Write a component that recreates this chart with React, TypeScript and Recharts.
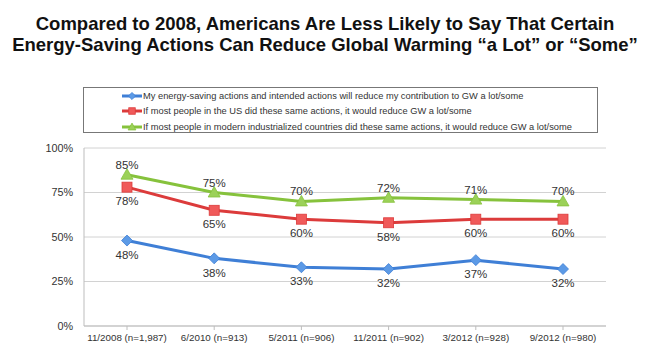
import { CartesianGrid, LabelList, Line, LineChart, XAxis, YAxis } from 'recharts';

const surveys = [
  '11/2008 (n=1,987)',
  '6/2010 (n=913)',
  '5/2011 (n=906)',
  '11/2011 (n=902)',
  '3/2012 (n=928)',
  '9/2012 (n=980)',
];
const myActions = [48, 38, 33, 32, 37, 32];
const mostUS = [78, 65, 60, 58, 60, 60];
const mostIndustrialized = [85, 75, 70, 72, 71, 70];
const yTicks = [0, 25, 50, 75, 100];

const FONT = '"Liberation Sans", Arial, sans-serif';

const series = [
  {
    key: 'mine',
    name: 'My energy-saving actions and intended actions will reduce my contribution to GW a lot/some',
    line: '#3f7fd6',
    fill: '#5c9ae6',
    shape: 'diamond',
    labelPos: 'bottom',
  },
  {
    key: 'us',
    name: 'If most people in the US did these same actions, it would reduce GW a lot/some',
    line: '#dc3b3b',
    fill: '#f05a5a',
    shape: 'square',
    labelPos: 'bottom',
  },
  {
    key: 'world',
    name: 'If most people in modern industrialized countries did these same actions, it would reduce GW a lot/some',
    line: '#86c23c',
    fill: '#9bd158',
    shape: 'triangle',
    labelPos: 'top',
  },
] as const;

const data = surveys.map((s, i) => ({
  survey: s,
  mine: myActions[i],
  us: mostUS[i],
  world: mostIndustrialized[i],
}));

function Marker({ cx, cy, shape, fill, stroke, size = 1 }: any) {
  if (cx == null || cy == null) return null;
  if (shape === 'diamond') {
    const r = 5.5 * size;
    return <path d={`M${cx},${cy - r}L${cx + r},${cy}L${cx},${cy + r}L${cx - r},${cy}Z`} fill={fill} stroke={stroke} strokeWidth={0.8} />;
  }
  if (shape === 'square') {
    const r = 5 * size;
    return <rect x={cx - r} y={cy - r} width={r * 2} height={r * 2} fill={fill} stroke={stroke} strokeWidth={0.8} />;
  }
  const r = 6 * size;
  return <path d={`M${cx},${cy - r}L${cx + r},${cy + r * 0.75}L${cx - r},${cy + r * 0.75}Z`} fill={fill} stroke={stroke} strokeWidth={0.8} />;
}

function LegendBox() {
  return (
    <div
      style={{
        position: 'absolute',
        left: 83,
        top: 87,
        width: 515,
        height: 46,
        border: '1.5px solid #777',
        boxSizing: 'border-box',
        padding: '0 0 0 38px',
        fontFamily: FONT,
        fontSize: 9.3,
        color: '#333',
        background: '#fff',
      }}
    >
      {series.map((s) => (
        <div key={s.key} style={{ display: 'flex', alignItems: 'center', height: 15.5, whiteSpace: 'nowrap' }}>
          <svg width={20} height={10} style={{ marginRight: 1 }}>
            <line x1={0} y1={5} x2={20} y2={5} stroke={s.line} strokeWidth={3} />
            <Marker cx={10} cy={5} shape={s.shape} fill={s.fill} stroke={s.line} size={0.65} />
          </svg>
          <span>{s.name}</span>
        </div>
      ))}
    </div>
  );
}

export default function App() {
  return (
    <div style={{ position: 'absolute', left: 0, top: 0, width: 650, height: 354, background: '#fff' }}>
      <div
        style={{
          position: 'absolute',
          left: 0,
          top: 13,
          width: 650,
          textAlign: 'center',
          fontFamily: FONT,
          fontWeight: 'bold',
          fontSize: 18.5,
          lineHeight: '21px',
          color: '#111',
        }}
      >
        Compared to 2008, Americans Are Less Likely to Say That Certain
        <br />
        Energy-Saving Actions Can Reduce Global Warming “a Lot” or “Some”
      </div>
      <LineChart width={650} height={354} data={data} margin={{ top: 148, right: 44, bottom: 0, left: 0 }}>
        <CartesianGrid stroke="#d2d2d2" vertical={false} />
        <XAxis
          dataKey="survey"
          stroke="#bdbdbd"
          tickSize={4}
          tickMargin={4}
          height={28}
          interval={0}
          padding={{ left: 43, right: 43 }}
          tick={{ fontFamily: FONT, fontSize: 9.8, fill: '#333' }}
        />
        <YAxis
          type="number"
          domain={[0, 100]}
          ticks={yTicks}
          stroke="#bdbdbd"
          tickLine={false}
          tickMargin={5}
          width={84}
          tickFormatter={(v) => `${v}%`}
          tick={{ fontFamily: FONT, fontSize: 10.8, fill: '#333' }}
        />
        {series.map((s) => (
          <Line
            key={s.key}
            dataKey={s.key}
            name={s.name}
            type="linear"
            stroke={s.line}
            strokeWidth={3}
            isAnimationActive={false}
            dot={(p: any) => <Marker key={`${s.key}-${p.index}`} cx={p.cx} cy={p.cy} shape={s.shape} fill={s.fill} stroke={s.line} />}
            activeDot={false}
          >
            <LabelList
              dataKey={s.key}
              position={s.labelPos}
              offset={s.labelPos === 'top' ? 6 : 10}
              formatter={(v: any) => `${v}%`}
              style={{ fontFamily: FONT, fontSize: 11.5, fill: '#333' }}
            />
          </Line>
        ))}
      </LineChart>
      <LegendBox />
    </div>
  );
}
